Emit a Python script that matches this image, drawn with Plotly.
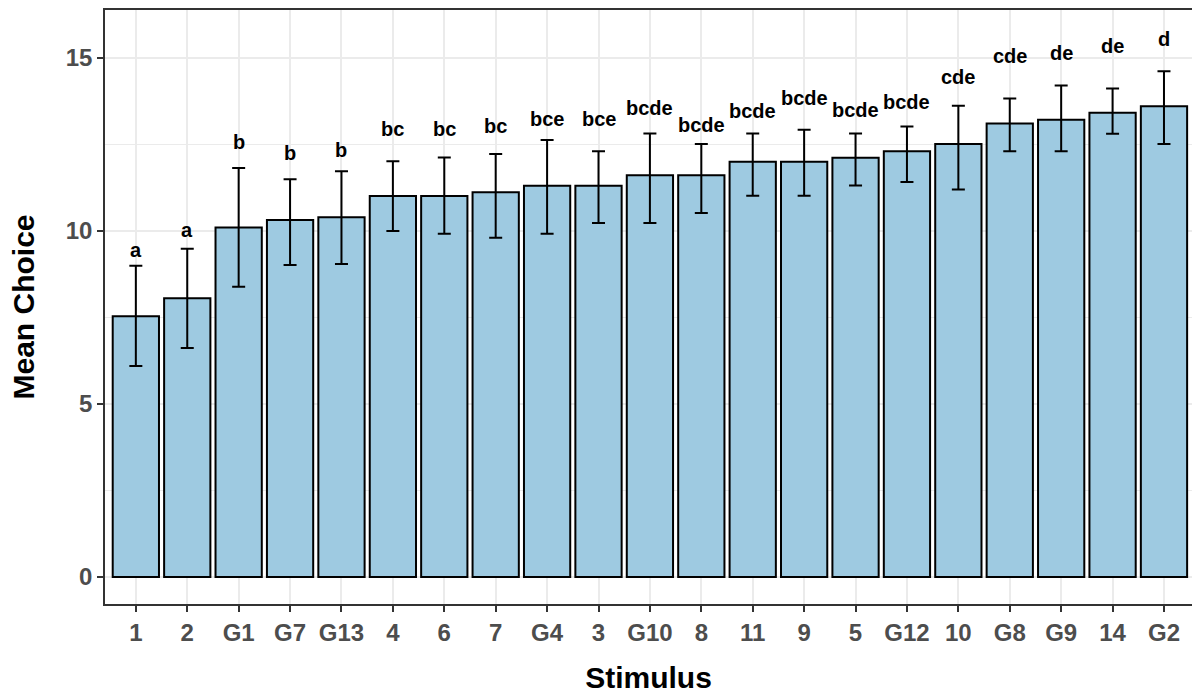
import plotly.graph_objects as go

categories = ["1", "2", "G1", "G7", "G13", "4", "6", "7", "G4", "3", "G10",
              "8", "11", "9", "5", "G12", "10", "G8", "G9", "14", "G2"]
mean_choice = [7.54, 8.06, 10.10, 10.32, 10.40, 11.01, 11.01, 11.12, 11.31, 11.31, 11.61,
               11.61, 12.00, 12.00, 12.12, 12.31, 12.52, 13.11, 13.22, 13.42, 13.61]
err_upper = [1.46, 1.43, 1.72, 1.18, 1.33, 1.01, 1.12, 1.11, 1.32, 1.00, 1.21,
             0.91, 0.82, 0.93, 0.70, 0.71, 1.10, 0.72, 0.99, 0.70, 1.01]
err_lower = [1.44, 1.44, 1.71, 1.30, 1.35, 1.01, 1.09, 1.31, 1.39, 1.08, 1.38,
             1.09, 0.98, 0.98, 0.80, 0.89, 1.32, 0.80, 0.91, 0.61, 1.09]
group_labels = ["a", "a", "b", "b", "b", "bc", "bc", "bc", "bce", "bce", "bcde",
                "bcde", "bcde", "bcde", "bcde", "bcde", "cde", "cde", "de", "de", "d"]
label_y = [9.25, 9.83, 12.37, 12.05, 12.15, 12.75, 12.75, 12.84, 13.03, 13.03, 13.35,
           12.85, 13.27, 13.63, 13.29, 13.53, 14.25, 14.85, 14.94, 15.14, 15.35]

FONT = "Liberation Sans, Arial, sans-serif"

fig = go.Figure()
fig.add_trace(go.Bar(
    x=categories,
    y=mean_choice,
    width=0.9,
    marker=dict(color="#9ECAE1", line=dict(color="black", width=2)),
    error_y=dict(type="data", symmetric=False, array=err_upper, arrayminus=err_lower,
                 color="black", thickness=2, width=6.5),
    showlegend=False,
))

for i, (lab, ly) in enumerate(zip(group_labels, label_y)):
    fig.add_annotation(x=i, y=ly, text=lab, showarrow=False, yanchor="bottom",
                       yshift=-6, font=dict(family=FONT, size=20, color="black", weight="bold"))

fig.update_layout(
    width=1192, height=694,
    margin=dict(l=105, r=0, t=10, b=90),
    paper_bgcolor="white", plot_bgcolor="white",
    bargap=0.1,
    font=dict(family=FONT),
)
fig.update_xaxes(
    type="category", categoryorder="array", categoryarray=categories,
    range=[-0.6, 20.545],
    showline=True, linecolor="#333333", linewidth=1.5, mirror=True,
    showgrid=True, gridcolor="#EBEBEB", gridwidth=1.5,
    ticks="outside", ticklen=6, tickcolor="#333333", tickwidth=1.5,
    tickfont=dict(family=FONT, size=24, color="#4D4D4D", weight="bold"),
    title=dict(text="Stimulus", font=dict(family=FONT, size=30, color="black", weight="bold"),
               standoff=24),
    zeroline=False,
)
fig.update_yaxes(
    range=[-0.78, 16.39],
    tickvals=[0, 5, 10, 15],
    showline=True, linecolor="#333333", linewidth=1.5, mirror=False,
    showgrid=True, gridcolor="#EBEBEB", gridwidth=1.5,
    minor=dict(dtick=2.5, tick0=0, showgrid=True, gridcolor="#EBEBEB", gridwidth=0.8, ticks=""),
    ticks="outside", ticklen=6, tickcolor="#333333", tickwidth=1.5,
    tickfont=dict(family=FONT, size=24, color="#4D4D4D", weight="bold"),
    title=dict(text="Mean Choice", font=dict(family=FONT, size=30, color="black", weight="bold"),
               standoff=22),
    zeroline=False,
)

fig.write_html("out.html")
